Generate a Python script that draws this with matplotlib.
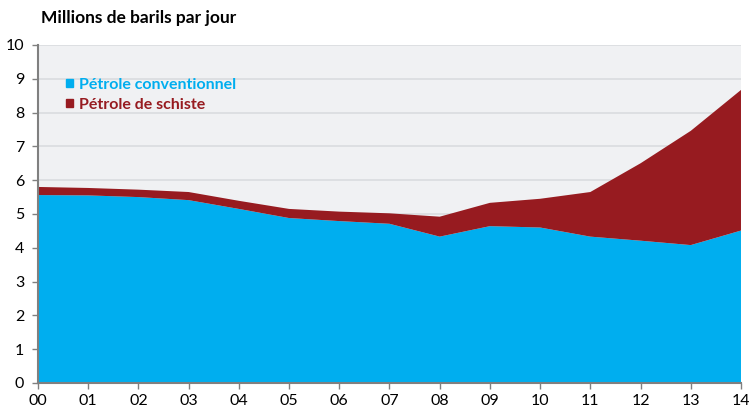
import matplotlib.pyplot as plt
import numpy as np
from matplotlib.patches import Patch

plt.rcParams['font.family'] = ['Lato', 'DejaVu Sans']

# Values (millions of barrels per day)
years = ["00", "01", "02", "03", "04", "05", "06", "07", "08", "09", "10", "11", "12", "13", "14"]
conventionnel = [5.56, 5.55, 5.50, 5.41, 5.15, 4.88, 4.79, 4.71, 4.33, 4.64, 4.60, 4.33, 4.21, 4.08, 4.51]
schiste = [0.24, 0.22, 0.22, 0.24, 0.24, 0.27, 0.28, 0.31, 0.59, 0.69, 0.85, 1.32, 2.29, 3.38, 4.16]

blue = "#00AEEF"
red = "#971B20"

x = np.arange(len(years))

fig = plt.figure(figsize=(7.49, 4.09), dpi=100)
ax = fig.add_axes([0.0507, 0.0636, 0.9386, 0.8264])
ax.set_facecolor("#F0F1F3")

ax.stackplot(x, conventionnel, schiste, colors=[blue, red], linewidth=0)

ax.set_xlim(0, 14)
ax.set_ylim(0, 10)
ax.set_yticks(range(0, 11))
ax.set_xticks(x)
ax.set_xticklabels(years)
ax.grid(axis='y', color="#DADCDF", linewidth=1.2)
ax.set_axisbelow(True)

for s in ['top', 'right']:
    ax.spines[s].set_visible(False)
for s in ['left', 'bottom']:
    ax.spines[s].set_color("#808080")
    ax.spines[s].set_linewidth(1.5)
ax.tick_params(axis='both', colors="#808080", labelcolor="black", labelsize=11.5, length=4, width=1)
ax.tick_params(axis='y', pad=6)
ax.tick_params(axis='x', pad=4)

fig.text(0.055, 0.955, "Millions de barils par jour", fontsize=12.5, fontweight='bold', va='center', ha='left')

handles = [Patch(color=blue), Patch(color=red)]
leg = ax.legend(handles, ["Pétrole conventionnel", "Pétrole de schiste"],
                loc='upper left', bbox_to_anchor=(0.02, 0.945), frameon=False,
                handlelength=0.4, handleheight=0.4, handletextpad=0.4,
                labelspacing=0.35, prop={'weight': 'bold', 'size': 11.5},
                labelcolor=[blue, red])

fig.savefig("out.png", dpi=100)
